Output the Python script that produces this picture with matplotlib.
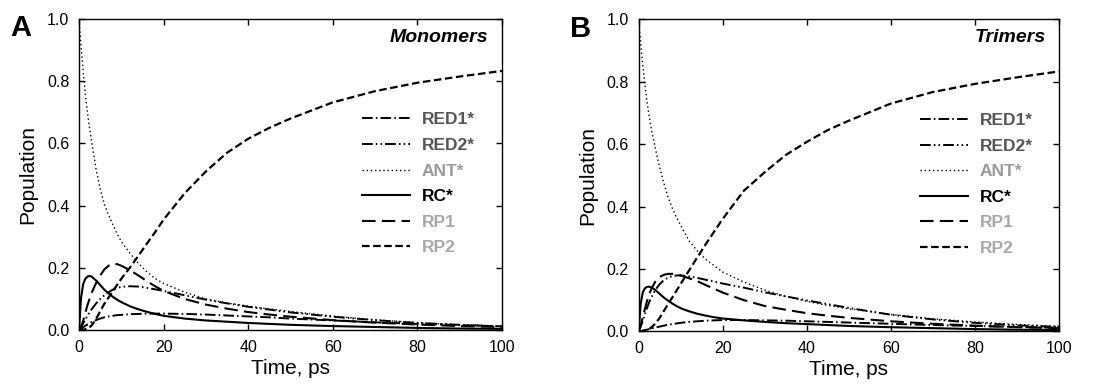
import matplotlib
matplotlib.use("Agg")
import matplotlib.pyplot as plt

plt.rcParams['font.family'] = ['Liberation Sans', 'DejaVu Sans']

# time grid (ps) shared by all curves
t = [0, 0.5, 1, 1.5, 2, 2.5, 3, 4, 5, 6, 7, 8, 9, 10, 12, 14, 16, 18, 20,
     25, 30, 35, 40, 45, 50, 60, 70, 80, 90, 100]

# monomers
red1_m = [0, 0.004, 0.009, 0.014, 0.018, 0.022, 0.026, 0.032, 0.037, 0.041, 0.044, 0.046, 0.048, 0.049,
          0.051, 0.052, 0.053, 0.053, 0.053, 0.052, 0.05, 0.047, 0.044, 0.041, 0.037, 0.031, 0.025, 0.02, 0.016, 0.012]
red2_m = [0, 0.01, 0.022, 0.034, 0.046, 0.057, 0.067, 0.085, 0.1, 0.112, 0.122, 0.13, 0.135, 0.139,
          0.141, 0.14, 0.136, 0.131, 0.126, 0.112, 0.098, 0.086, 0.075, 0.066, 0.057, 0.043, 0.032, 0.023, 0.017, 0.012]
ant_m = [1.0, 0.91, 0.83, 0.76, 0.70, 0.65, 0.605, 0.52, 0.455, 0.405, 0.37, 0.34, 0.31, 0.285,
         0.248, 0.215, 0.188, 0.166, 0.15, 0.122, 0.1, 0.087, 0.077, 0.068, 0.06, 0.045, 0.033, 0.024, 0.017, 0.012]
rc_m = [0, 0.105, 0.148, 0.165, 0.172, 0.174, 0.172, 0.16, 0.145, 0.13, 0.118, 0.107, 0.098, 0.09,
        0.077, 0.067, 0.059, 0.052, 0.046, 0.037, 0.031, 0.027, 0.023, 0.02, 0.017, 0.013, 0.01, 0.007, 0.005, 0.004]
rp1_m = [0, 0.01, 0.03, 0.055, 0.08, 0.1, 0.12, 0.15, 0.175, 0.195, 0.207, 0.213, 0.212, 0.207,
         0.193, 0.176, 0.158, 0.141, 0.126, 0.1, 0.082, 0.069, 0.058, 0.05, 0.043, 0.032, 0.024, 0.018, 0.013, 0.01]
rp2_m = [0, 0.0, 0.001, 0.003, 0.005, 0.009, 0.015, 0.035, 0.06, 0.085, 0.105, 0.125, 0.145, 0.165,
         0.2, 0.238, 0.277, 0.315, 0.355, 0.44, 0.51, 0.57, 0.615, 0.65, 0.68, 0.732, 0.768, 0.795, 0.815, 0.833]

# trimers
red1_t = [0, 0.001, 0.002, 0.004, 0.005, 0.007, 0.009, 0.012, 0.015, 0.018, 0.021, 0.023, 0.025, 0.027,
          0.03, 0.032, 0.034, 0.035, 0.036, 0.036, 0.035, 0.034, 0.032, 0.03, 0.028, 0.024, 0.02, 0.017, 0.014, 0.011]
red2_t = [0, 0.015, 0.035, 0.055, 0.075, 0.093, 0.108, 0.133, 0.151, 0.164, 0.172, 0.177, 0.179, 0.179,
          0.176, 0.171, 0.165, 0.159, 0.153, 0.14, 0.125, 0.112, 0.099, 0.087, 0.075, 0.053, 0.038, 0.027, 0.019, 0.014]
ant_t = [1.0, 0.92, 0.85, 0.79, 0.735, 0.69, 0.65, 0.585, 0.525, 0.475, 0.43, 0.395, 0.365, 0.34,
         0.29, 0.257, 0.23, 0.21, 0.19, 0.158, 0.132, 0.112, 0.096, 0.083, 0.072, 0.054, 0.04, 0.03, 0.022, 0.016]
rc_t = [0, 0.09, 0.125, 0.138, 0.142, 0.143, 0.141, 0.132, 0.12, 0.108, 0.098, 0.089, 0.081, 0.074,
        0.064, 0.056, 0.05, 0.045, 0.041, 0.035, 0.03, 0.026, 0.023, 0.02, 0.017, 0.013, 0.01, 0.007, 0.005, 0.004]
rp1_t = [0, 0.02, 0.045, 0.072, 0.097, 0.118, 0.135, 0.16, 0.174, 0.181, 0.184, 0.184, 0.182, 0.179,
         0.17, 0.16, 0.148, 0.136, 0.124, 0.1, 0.081, 0.069, 0.058, 0.05, 0.043, 0.032, 0.024, 0.018, 0.013, 0.01]
rp2_t = [0, 0.0, 0.001, 0.002, 0.004, 0.007, 0.012, 0.025, 0.043, 0.065, 0.087, 0.108, 0.13, 0.152,
         0.195, 0.238, 0.28, 0.32, 0.36, 0.45, 0.51, 0.565, 0.607, 0.645, 0.675, 0.73, 0.767, 0.793, 0.814, 0.833]

labels = ["RED1*", "RED2*", "ANT*", "RC*", "RP1", "RP2"]
label_colors = ["#555555", "#555555", "#9a9a9a", "#000000", "#a8a8a8", "#a8a8a8"]
styles = [
    dict(lw=1.4, dashes=(5.5, 1.6, 0.8, 1.6)),
    dict(lw=1.4, dashes=(5.5, 1.6, 0.8, 1.6, 0.8, 1.6)),
    dict(lw=1.0, dashes=(1, 2)),
    dict(lw=1.5),
    dict(lw=1.5, dashes=(6.5, 3)),
    dict(lw=1.6, dashes=(3.4, 1.6)),
]

panels = [
    ([0.0716, 0.147, 0.3835, 0.804], "A", "Monomers", [red1_m, red2_m, ant_m, rc_m, rp1_m, rp2_m]),
    ([0.579, 0.144, 0.381, 0.806], "B", "Trimers", [red1_t, red2_t, ant_t, rc_t, rp1_t, rp2_t]),
]

fig = plt.figure(figsize=(11.03, 3.87), dpi=100)

for rect, letter, title, series in panels:
    ax = fig.add_axes(rect)
    for y, lab, st in zip(series, labels, styles):
        ax.plot(t, y, color="black", label=lab, **st)
    ax.set_xlim(0, 100)
    ax.set_ylim(0, 1.0)
    ax.set_xticks([0, 20, 40, 60, 80, 100])
    ax.set_yticks([0, 0.2, 0.4, 0.6, 0.8, 1.0])
    ax.set_yticklabels(["0.0", "0.2", "0.4", "0.6", "0.8", "1.0"])
    ax.tick_params(direction="in", top=True, right=True, length=4, width=1,
                   labelsize=11.5, pad=7)
    for s in ax.spines.values():
        s.set_linewidth(1.0)
    ax.set_xlabel("Time, ps", fontsize=15, labelpad=3)
    ax.set_ylabel("Population", fontsize=15, labelpad=7)
    ax.text(0.968, 0.942, title, transform=ax.transAxes, ha="right", va="center",
            fontsize=14, fontweight="bold", fontstyle="italic")
    ax.text(-0.163, 0.97, letter, transform=ax.transAxes, ha="left", va="center",
            fontsize=21, fontweight="bold")
    leg = ax.legend(loc="upper left", bbox_to_anchor=(0.669, 0.70), frameon=False,
                    handlelength=2.75, handletextpad=0.7, labelspacing=0.6,
                    borderpad=0, borderaxespad=0, prop={"weight": "bold", "size": 12.5})
    for txt, c in zip(leg.get_texts(), label_colors):
        txt.set_color(c)

fig.savefig("out.png", dpi=100)
